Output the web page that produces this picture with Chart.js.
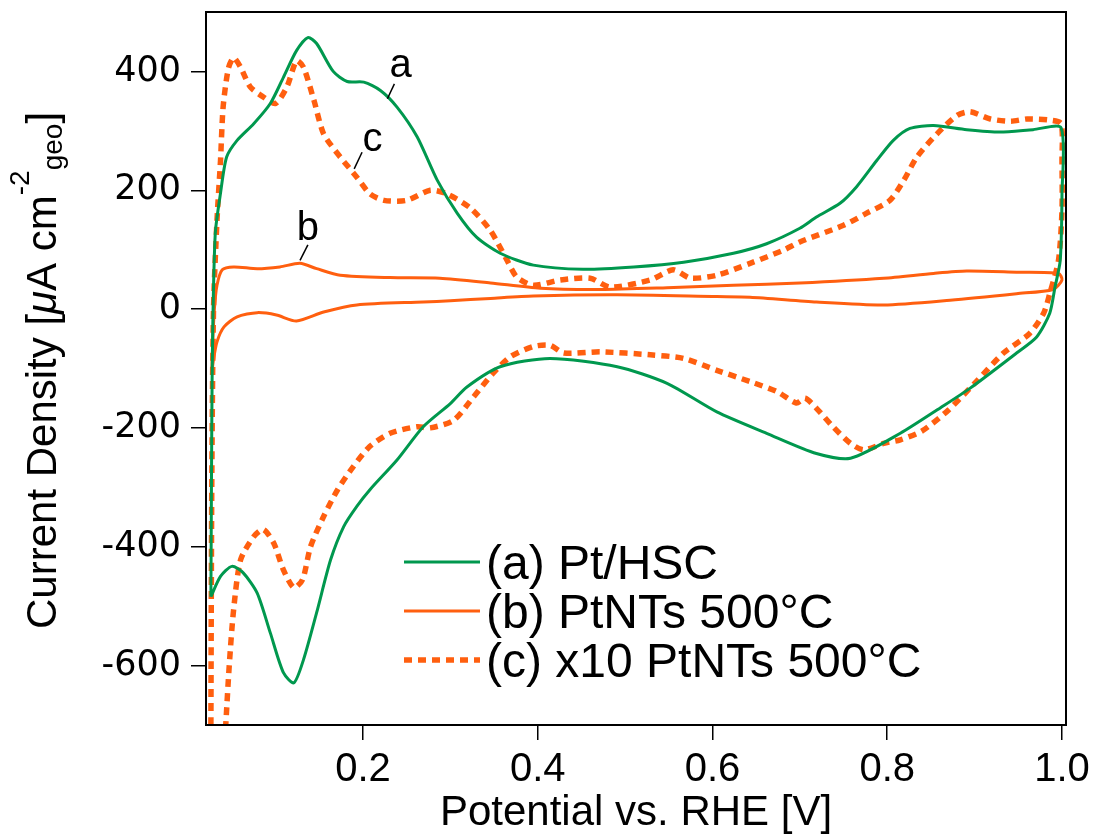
<!DOCTYPE html>
<html>
<head>
<meta charset="utf-8">
<script src="https://cdn.jsdelivr.net/npm/chart.js@4.4.1/dist/chart.umd.min.js"></script>
<style>
  body { margin: 0; background: #fff; }
  #wrap { width: 1095px; height: 839px; }
</style>
</head>
<body>
<div id="wrap"><canvas id="cv" width="1095" height="839"></canvas></div>
<script>
// potential (V vs RHE) and current density (uA/cm2)

// (a) Pt/HSC, one closed loop: anodic sweep then cathodic sweep
const ptHscV = [0.026, 0.027, 0.028, 0.031, 0.037, 0.044, 0.056, 0.075, 0.094, 0.109, 0.124, 0.137, 0.147, 0.166, 0.182,
  0.201, 0.220, 0.239, 0.262, 0.285, 0.308, 0.330, 0.357, 0.395, 0.452, 0.510, 0.567, 0.624, 0.662, 0.700, 0.719,
  0.746, 0.765, 0.788, 0.807, 0.826, 0.853, 0.891, 0.929, 0.967, 0.999,
  1.000, 0.998, 0.992, 0.986, 0.971, 0.948, 0.895, 0.861, 0.815, 0.758, 0.719, 0.662, 0.605, 0.548, 0.491, 0.414,
  0.357, 0.319, 0.300, 0.269, 0.239, 0.208, 0.193, 0.178, 0.163, 0.147, 0.132, 0.121, 0.109, 0.094, 0.079, 0.063,
  0.050, 0.037, 0.026];
const ptHscJ = [-484, -200, -41, 127, 195, 256, 284, 312, 346, 390, 435, 457, 447, 400, 383,
  382, 368, 340, 290, 217, 161, 121, 94, 74, 67, 71, 79, 94, 110, 136, 155,
  178, 206, 250, 284, 304, 309, 302, 298, 302, 305,
  194, 82, 37, -7, -47, -74, -133, -166, -209, -251, -243, -209, -173, -125, -97, -83,
  -97, -131, -159, -198, -254, -304, -332, -366, -422, -511, -590, -629, -612, -545, -478, -444,
  -433, -450, -484];

// (b) PtNTs 500°C
const ptNtV = [0.027, 0.028, 0.030, 0.033, 0.039, 0.052, 0.079, 0.105, 0.128, 0.147, 0.174, 0.231, 0.288, 0.346,
  0.403, 0.472, 0.548, 0.624, 0.700, 0.796, 0.853, 0.891, 0.948, 0.996, 1.000, 0.990,
  0.948, 0.872, 0.796, 0.719, 0.643, 0.605, 0.491, 0.395, 0.346, 0.300, 0.269, 0.193, 0.155, 0.124, 0.101, 0.079,
  0.056, 0.041, 0.033, 0.029, 0.027];
const ptNtJ = [-108, -60, 0, 40, 66, 71, 68, 71, 77, 68, 57, 53, 52, 44,
  35, 33, 36, 40, 44, 52, 60, 64, 62, 60, 49, 33,
  26, 15, 7, 12, 20, 21, 24, 22, 18, 14, 12, 7, -5, -20, -10, -6,
  -13, -30, -55, -85, -108];

// (c) PtNTs 500°C multiplied by 10
const ptNt10V = [0.026, 0.027, 0.029, 0.033, 0.037, 0.040, 0.046, 0.052, 0.060, 0.071, 0.086, 0.100, 0.113, 0.124,
  0.132, 0.144, 0.155, 0.174, 0.193, 0.208, 0.224, 0.250, 0.277, 0.296, 0.323, 0.346, 0.365, 0.376, 0.395, 0.426,
  0.460, 0.483, 0.529, 0.555, 0.575, 0.605, 0.643, 0.681, 0.700, 0.750, 0.776, 0.803, 0.819, 0.834, 0.857, 0.880,
  0.895, 0.918, 0.941, 0.960, 0.986, 0.999,
  1.000, 1.000, 0.996, 0.986, 0.979, 0.963, 0.933, 0.900, 0.870, 0.840, 0.815, 0.796, 0.773, 0.758, 0.738, 0.719,
  0.706, 0.696, 0.674, 0.643, 0.605, 0.567, 0.529, 0.472, 0.430, 0.414, 0.395, 0.369, 0.349, 0.327, 0.304, 0.277,
  0.262, 0.231, 0.208, 0.189, 0.171, 0.155, 0.140, 0.131, 0.121, 0.109, 0.098, 0.086, 0.075, 0.060, 0.052, 0.047,
  0.043];
const ptNt10J = [-700, -300, 0, 150, 250, 340, 405, 423, 407, 374, 357, 346, 374, 418,
  407, 351, 295, 256, 222, 194, 183, 183, 200, 194, 170, 132, 82, 54, 40, 49,
  52, 37, 49, 66, 52, 57, 77, 99, 113, 141, 161, 183, 217, 256, 295, 326,
  332, 320, 316, 320, 318, 312,
  250, 166, 82, 26, -7, -41, -74, -125, -170, -205, -220, -226, -237, -226, -198, -167,
  -150, -158, -139, -122, -103, -83, -77, -72, -74, -61, -63, -80, -108, -147, -187, -200,
  -198, -209, -231, -265, -304, -349, -400, -455, -469, -439, -394, -371, -383, -422, -506, -600,
  -700];

const seriesNames = ["(a) Pt/HSC", "(b) PtNTs 500°C", "(c) x10 PtNTs 500°C"];
const xTicks = [0.2, 0.4, 0.6, 0.8, 1.0];
const yTicks = [-600, -400, -200, 0, 200, 400];

// curve letters: [letter, text x, text y, leader from x,y, leader to x,y] in data units
const curveLabels = [
  ["a", 0.243, 410, 0.228, 354, 0.236, 379],
  ["b", 0.137, 135, 0.128, 82, 0.137, 108],
  ["c", 0.211, 285, 0.190, 236, 0.199, 264]
];

const GREEN = "#00984e";
const ORANGE = "#ff5f0f";

function pts(xs, ys) {
  return xs.map((x, i) => ({ x: x, y: ys[i] }));
}

const frame = {
  id: "frame",
  afterDatasetsDraw(chart) {
    const ctx = chart.ctx, a = chart.chartArea;
    ctx.save();
    ctx.strokeStyle = "#000";
    ctx.lineWidth = 2;
    ctx.strokeRect(a.left, a.top, a.right - a.left, a.bottom - a.top);

    // curve letters with short leader lines
    const xs = chart.scales.x, ys = chart.scales.y;
    ctx.lineWidth = 1.5;
    ctx.fillStyle = "#000";
    ctx.font = "40px 'Liberation Sans'";
    ctx.textAlign = "center";
    ctx.textBaseline = "middle";
    curveLabels.forEach(l => {
      ctx.beginPath();
      ctx.moveTo(xs.getPixelForValue(l[3]), ys.getPixelForValue(l[4]));
      ctx.lineTo(xs.getPixelForValue(l[5]), ys.getPixelForValue(l[6]));
      ctx.stroke();
      ctx.fillText(l[0], xs.getPixelForValue(l[1]), ys.getPixelForValue(l[2]));
    });

    // legend inside the plot
    const styles = [
      { c: GREEN, w: 3, d: [] },
      { c: ORANGE, w: 3, d: [] },
      { c: ORANGE, w: 5.5, d: [8, 6] }
    ];
    ctx.textAlign = "left";
    ctx.textBaseline = "alphabetic";
    ctx.font = "48px 'Liberation Sans'";
    seriesNames.forEach((name, i) => {
      const y = 562 + i * 49;
      ctx.beginPath();
      ctx.strokeStyle = styles[i].c;
      ctx.lineWidth = styles[i].w;
      ctx.setLineDash(styles[i].d);
      ctx.moveTo(404, y);
      ctx.lineTo(480, y);
      ctx.stroke();
      ctx.setLineDash([]);
      ctx.fillStyle = "#000";
      ctx.fillText(name, 486, y + 17);
    });
    ctx.restore();
  },
  afterDraw(chart) {
    // y axis title with superscript and subscript
    const ctx = chart.ctx;
    ctx.save();
    ctx.translate(56, 629);
    ctx.rotate(-Math.PI / 2);
    ctx.fillStyle = "#000";
    ctx.textBaseline = "alphabetic";
    ctx.textAlign = "left";
    let x = 0;
    const big = "42px 'Liberation Sans'";
    const small = "28px 'Liberation Sans'";
    const parts = [
      ["Current Density [", big, 0],
      ["\u03bc", "italic " + big, 0],
      ["A cm", big, 0],
      ["-2", small, -27],
      ["geo", small, 6],
      ["]", big, 0]
    ];
    parts.forEach(p => {
      ctx.font = p[1];
      ctx.fillText(p[0], x, p[2]);
      x += ctx.measureText(p[0]).width;
    });
    ctx.restore();
  }
};

function noPad(axis) {
  axis.paddingTop = 0;
  axis.paddingBottom = 0;
  axis.paddingLeft = 0;
  axis.paddingRight = 0;
}

new Chart(document.getElementById("cv"), {
  type: "scatter",
  data: {
    datasets: [
      { label: seriesNames[0], data: pts(ptHscV, ptHscJ), showLine: true, borderColor: GREEN, borderWidth: 3, pointRadius: 0, tension: 0.25 },
      { label: seriesNames[1], data: pts(ptNtV, ptNtJ), showLine: true, borderColor: ORANGE, borderWidth: 3, pointRadius: 0, tension: 0.25 },
      { label: seriesNames[2], data: pts(ptNt10V, ptNt10J), showLine: true, borderColor: ORANGE, borderWidth: 5.5, borderDash: [8, 6], pointRadius: 0, tension: 0.25 }
    ]
  },
  options: {
    responsive: false,
    animation: false,
    devicePixelRatio: 1,
    layout: { padding: { top: 12, right: 29, left: 0, bottom: 0 } },
    plugins: { legend: { display: false }, tooltip: { enabled: false } },
    scales: {
      x: {
        type: "linear",
        min: 0.0204,
        max: 1.0046,
        afterBuildTicks: axis => { axis.ticks = xTicks.map(v => ({ value: v })); },
        afterFit: axis => { axis.height = 114; noPad(axis); },
        ticks: {
          color: "#000",
          font: { family: "'Liberation Sans'", size: 40 },
          padding: 6,
          callback: v => v.toFixed(1)
        },
        grid: { drawOnChartArea: false, tickLength: 15, color: "#000", lineWidth: 1.5 },
        border: { color: "#000", width: 2 },
        title: {
          display: true,
          text: "Potential vs. RHE [V]",
          color: "#000",
          font: { family: "'Liberation Sans'", size: 42 },
          padding: { top: 0, bottom: 0 }
        }
      },
      y: {
        min: -700,
        max: 500,
        afterBuildTicks: axis => { axis.ticks = yTicks.map(v => ({ value: v })); },
        afterFit: axis => { axis.width = 206; noPad(axis); },
        ticks: {
          color: "#000",
          font: { family: "'DejaVu Sans'", size: 35 },
          padding: 10
        },
        grid: { drawOnChartArea: false, tickLength: 15, color: "#000", lineWidth: 1.5 },
        border: { color: "#000", width: 2 }
      }
    }
  },
  plugins: [frame]
});
</script>
</body>
</html>
